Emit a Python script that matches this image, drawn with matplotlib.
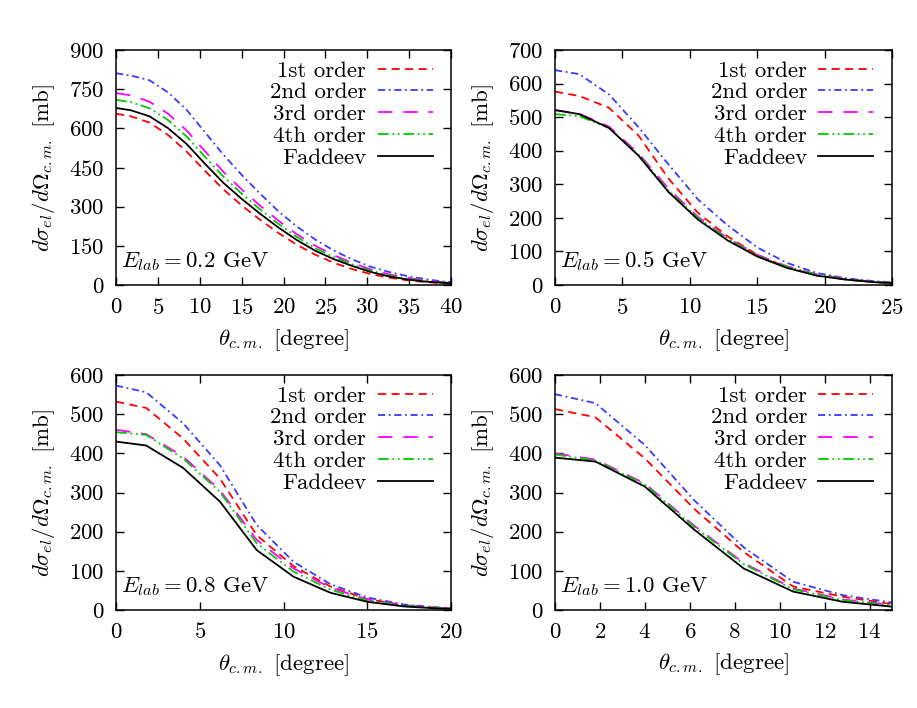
import matplotlib
matplotlib.use("Agg")
import matplotlib.pyplot as plt
import numpy as np

plt.rcParams['font.family'] = 'serif'
plt.rcParams['font.serif'] = ['cmr10']
plt.rcParams['mathtext.fontset'] = 'cm'
plt.rcParams['axes.formatter.use_mathtext'] = True

# ---------------- data ----------------
angles = [0, 1.8, 4.0, 6.2, 8.4, 10.6, 12.8, 15.0, 17.2, 19.4, 21.6, 23.8, 26.0,
          28.2, 30.4, 32.6, 34.8, 37.0, 39.2, 41.4]
series_names = ['1st order', '2nd order', '3rd order', '4th order', 'Faddeev']
energies = ['0.2', '0.5', '0.8', '1.0']

# E = 0.2 GeV (20 points)
e02_first = [656, 646, 622, 575, 512, 438, 367, 305, 250, 199, 154, 116, 85, 61, 42, 28, 18, 11, 6, 3]
e02_second = [811, 802, 784, 738, 672, 586, 500, 422, 350, 282, 224, 174, 132, 98, 70, 50, 34, 22, 13, 8]
e02_third = [735, 726, 702, 656, 593, 513, 434, 366, 304, 246, 194, 150, 114, 85, 60, 41, 27, 17, 10, 6]
e02_fourth = [709, 700, 677, 632, 570, 492, 416, 350, 290, 234, 184, 141, 107, 79, 55, 37, 24, 15, 9, 5]
e02_faddeev = [678, 669, 646, 601, 541, 465, 392, 330, 273, 220, 172, 131, 99, 73, 50, 33, 21, 13, 8, 4]

# E = 0.5 GeV (13 points)
e05_first = [576, 563, 528, 445, 318, 215, 145, 90, 53, 29, 16, 8, 4]
e05_second = [640, 628, 568, 470, 360, 255, 178, 112, 66, 36, 20, 11, 6]
e05_third = [521, 510, 472, 392, 288, 203, 140, 90, 56, 32, 18, 9, 4]
e05_fourth = [509, 503, 468, 388, 282, 200, 138, 87, 55, 31, 17, 9, 4]
e05_faddeev = [521, 509, 468, 385, 278, 195, 133, 85, 51, 28, 16, 8, 4]

# E = 0.8 GeV (11 points)
e08_first = [532, 516, 438, 336, 191, 112, 60, 28, 12, 5, 2]
e08_second = [573, 556, 477, 370, 217, 123, 66, 32, 14, 6, 2.5]
e08_third = [460, 449, 392, 306, 179, 106, 57, 27, 12, 5, 2]
e08_fourth = [454, 447, 387, 302, 170, 98, 52, 24, 11, 4.5, 2]
e08_faddeev = [430, 420, 363, 277, 153, 85, 44, 21, 9, 3.5, 1.5]

# E = 1.0 GeV (8 points)
e10_first = [513, 492, 387, 258, 148, 60, 34, 15]
e10_second = [551, 528, 421, 280, 160, 72, 38, 19]
e10_third = [400, 384, 323, 215, 120, 55, 27, 13]
e10_fourth = [397, 382, 320, 212, 117, 53, 25, 12]
e10_faddeev = [389, 379, 315, 205, 106, 47, 21, 8.5]

panel_data = [
    [e02_first, e02_second, e02_third, e02_fourth, e02_faddeev],
    [e05_first, e05_second, e05_third, e05_fourth, e05_faddeev],
    [e08_first, e08_second, e08_third, e08_fourth, e08_faddeev],
    [e10_first, e10_second, e10_third, e10_fourth, e10_faddeev],
]
xlims = [40, 25, 20, 15]
xticks = [np.arange(0, 41, 5), np.arange(0, 26, 5), np.arange(0, 21, 5), np.arange(0, 15, 2)]
ylims = [900, 700, 600, 600]
yticks = [np.arange(0, 901, 150), np.arange(0, 701, 100), np.arange(0, 601, 100), np.arange(0, 601, 100)]

# ---------------- styles ----------------
colors = ['#ff0000', '#3a3aff', '#ff00ff', '#00cc00', '#000000']
dashes = [(0, (4.5, 3)), (0, (4, 2, 1, 2)), (0, (8, 6)), (0, (6, 2, 1, 2, 1, 2)), '-']
FS = 16.5

fig = plt.figure(figsize=(9.17, 7.08), dpi=100)
W, H = 917, 708
boxes = [(116, 50, 451, 285), (555, 50, 892, 285), (116, 375, 451, 610), (555, 375, 892, 610)]

for i, (l, t, r, b) in enumerate(boxes):
    ax = fig.add_axes([l / W, 1 - b / H, (r - l) / W, (b - t) / H])
    data = panel_data[i]
    for j, ys in enumerate(data):
        xs = angles[:len(ys)]
        ax.plot(xs, ys, color=colors[j], linestyle=dashes[j], lw=1.3, label=series_names[j])
    ax.set_xlim(0, xlims[i])
    ax.set_ylim(0, ylims[i])
    ax.set_xticks(xticks[i])
    ax.set_yticks(yticks[i])
    ax.tick_params(direction='in', top=True, right=True, length=6, width=1.0,
                   labelsize=FS, pad=8)
    ax.tick_params(axis='x', pad=9)
    for s in ax.spines.values():
        s.set_linewidth(1.1)
    ax.set_xlabel(r'$\theta_{c.m.}$ [degree]', fontsize=FS, labelpad=7)
    ax.set_ylabel(r'$d\sigma_{el}/d\Omega_{c.m.}$ [mb]', fontsize=FS, labelpad=9)
    ax.text(0.015, 0.075, r'$E_{lab}=%s$ GeV' % energies[i], transform=ax.transAxes,
            fontsize=FS, ha='left', va='baseline')
    ax.legend(loc='upper right', bbox_to_anchor=(0.945, 0.955), frameon=False,
              markerfirst=False, fontsize=FS,
              handlelength=2.4, handletextpad=0.5, labelspacing=0.08,
              borderaxespad=0.0, borderpad=0.0)

fig.savefig('out.png', dpi=100)
